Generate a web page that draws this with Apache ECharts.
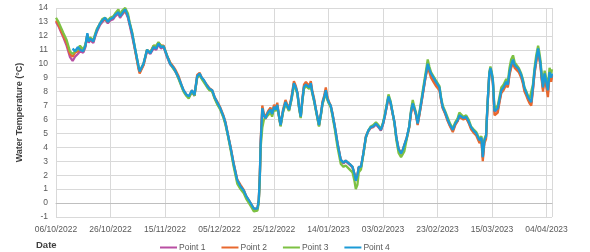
<!DOCTYPE html>
<html><head><meta charset="utf-8">
<script src="https://cdn.jsdelivr.net/npm/echarts@6/dist/echarts.min.js"></script>
<style>html,body{margin:0;padding:0;background:#fff}#c{width:590px;height:252px}</style>
</head><body><div id="c"></div>
<script>
// Day offsets from 06/10/2022
var startDate = '2022-10-06';
var days = [0.0,0.9,1.8,2.7,3.9,5.1,6.1,7.0,8.0,8.8,10.0,10.8,11.5,12.0,12.5,13.7,14.3,15.0,16.2,17.0,18.0,19.0,19.9,21.0,21.7,22.9,23.5,24.2,25.4,26.4,27.0,27.9,29.1,30.3,30.7,32.1,33.4,34.6,35.8,36.8,37.6,38.5,39.5,40.7,41.9,43.2,44.0,45.0,46.0,46.8,47.8,48.7,49.9,50.8,51.8,52.7,53.5,54.2,55.5,56.3,57.3,58.2,59.1,60.3,61.5,62.2,63.0,64.0,65.2,66.5,67.7,68.9,69.8,70.8,71.7,72.6,73.3,73.9,74.4,74.8,75.1,75.7,76.3,76.9,77.8,78.7,79.3,80.0,80.6,81.2,81.8,82.4,83.3,84.2,84.8,85.5,86.4,87.3,88.0,88.6,89.2,89.8,90.4,91.0,91.7,92.3,92.9,93.5,94.0,94.7,95.5,96.5,97.2,97.8,98.4,99.0,99.6,100.2,100.8,101.4,102.3,103.3,104.5,105.5,106.3,107.0,107.8,108.8,109.5,110.0,110.6,111.1,111.9,112.8,113.7,114.6,115.5,116.4,117.4,118.3,119.2,120.0,120.7,122.0,122.8,123.5,124.2,124.9,125.7,126.6,127.2,127.8,128.7,129.6,130.3,130.9,131.5,132.1,132.7,133.5,134.6,135.5,136.4,137.0,137.6,138.5,139.4,140.7,141.3,141.9,142.8,143.8,144.6,145.6,146.5,147.4,148.0,148.6,149.5,150.5,151.4,152.3,153.2,154.2,155.4,156.1,156.6,157.2,157.8,158.2,158.6,159.0,159.4,159.9,160.3,160.9,161.5,162.1,162.8,163.4,164.2,165.2,165.8,166.4,167.0,167.7,168.3,168.9,169.8,170.7,171.3,171.9,172.6,173.2,173.8,174.4,175.0,175.6,176.2,176.9,177.3,177.8,178.2,178.7,179.3,179.9,180.5,181.1,181.7,182.0];

var point1 = [13.0,12.7,12.3,11.9,11.3,10.5,10.2,10.5,10.7,10.9,10.8,11.2,12.1,11.5,11.7,11.5,11.9,12.3,12.8,13.0,13.2,12.9,13.1,13.2,13.4,13.6,13.3,13.5,13.8,13.3,12.8,12.0,10.9,9.7,9.4,9.9,10.9,10.7,11.1,11.0,11.4,11.1,11.2,10.5,9.95,9.65,9.35,8.95,8.45,8.05,7.75,7.6,8.0,7.7,9.0,9.2,8.95,8.8,8.35,8.15,8.05,7.55,7.2,6.75,6.15,5.7,4.95,4.0,2.75,1.6,1.15,0.85,0.45,0.15,-0.15,-0.45,-0.5,-0.45,0.15,1.9,4.2,6.7,6.25,6.05,6.45,6.65,6.35,6.85,6.65,7.0,6.25,5.55,6.55,7.2,6.95,6.65,7.45,8.55,8.25,7.85,6.85,6.15,7.35,8.3,8.45,8.55,8.25,8.55,7.95,7.35,6.55,5.55,6.35,7.15,7.55,8.05,7.45,7.15,6.95,6.4,5.45,4.25,3.05,2.85,3.0,2.9,2.75,2.55,2.05,1.6,1.95,2.55,2.55,3.55,4.7,5.15,5.4,5.45,5.65,5.45,5.2,5.65,6.25,7.6,7.15,7.15,5.75,4.65,3.85,3.5,3.75,3.85,4.65,5.45,6.55,7.1,6.75,6.35,5.65,6.55,7.85,8.95,9.95,9.55,9.25,8.95,8.65,8.25,7.45,6.85,6.45,5.9,5.55,5.2,5.65,5.9,6.25,6.25,6.05,6.15,5.8,5.4,5.15,4.95,4.45,4.65,3.25,4.45,4.75,6.45,7.95,9.25,9.65,9.25,8.75,6.55,6.6,6.7,7.4,8.0,8.2,8.6,8.4,9.3,9.8,10.2,9.8,9.7,9.5,9.1,8.7,8.15,7.8,7.5,7.3,7.15,8.2,9.4,10.2,11.0,10.5,9.9,9.0,8.2,9.2,9.1,7.9,9.3,8.85,9.2];

var point2 = [13.1,12.8,12.4,12.0,11.5,10.7,10.5,10.8,10.9,11.1,10.9,11.3,12.1,11.6,11.8,11.6,12.0,12.4,12.9,13.1,13.2,13.0,13.2,13.3,13.5,13.7,13.4,13.6,13.8,13.4,12.9,12.2,10.9,9.6,9.3,9.9,11.0,10.8,11.3,11.2,11.5,11.3,11.3,10.6,10.1,9.75,9.5,9.1,8.5,8.1,7.8,7.6,8.1,7.7,9.2,9.35,9.0,8.9,8.45,8.25,8.1,7.6,7.3,6.85,6.25,5.8,5.0,4.1,2.85,1.7,1.3,0.95,0.5,0.2,-0.1,-0.4,-0.45,-0.4,0.2,2.1,4.5,7.0,6.4,6.2,6.6,6.85,6.5,7.05,6.8,7.2,6.3,5.6,6.7,7.4,7.1,6.8,7.6,8.75,8.4,7.9,6.9,6.2,7.5,8.5,8.7,8.75,8.4,8.75,8.1,7.5,6.6,5.6,6.4,7.3,7.7,8.3,7.6,7.25,7.0,6.5,5.5,4.3,3.1,2.9,3.05,2.95,2.8,2.6,2.1,1.7,2.0,2.6,2.6,3.6,4.8,5.2,5.4,5.5,5.7,5.5,5.25,5.7,6.3,7.6,7.1,7.1,5.8,4.7,3.9,3.6,3.8,3.9,4.7,5.4,6.5,7.0,6.7,6.3,5.6,6.5,7.8,8.9,9.8,9.4,9.0,8.7,8.4,8.1,7.4,6.8,6.4,5.85,5.5,5.1,5.6,5.9,6.2,6.2,6.0,6.1,5.75,5.3,5.05,4.85,4.3,4.5,3.0,4.3,4.6,6.4,7.9,9.2,9.6,9.2,8.6,6.3,6.4,6.5,7.3,7.9,8.1,8.5,8.3,9.2,9.7,10.1,9.7,9.6,9.4,9.0,8.6,8.0,7.7,7.4,7.15,7.0,8.1,9.3,10.1,10.9,10.4,9.8,8.9,8.0,9.1,9.0,7.6,9.2,8.7,9.1];

var point3 = [13.3,13.0,12.6,12.2,11.7,10.9,10.7,10.9,11.0,11.3,11.0,11.4,12.0,11.7,11.9,11.7,12.1,12.5,12.9,13.2,13.3,13.1,13.3,13.4,13.6,13.9,13.5,13.8,14.0,13.6,13.0,12.3,11.0,9.8,9.5,10.0,11.0,10.8,11.3,11.3,11.55,11.3,11.25,10.6,10.0,9.6,9.4,8.9,8.4,8.0,7.7,7.5,8.0,7.7,9.0,9.2,8.9,8.8,8.3,8.1,8.0,7.5,7.1,6.7,6.1,5.6,4.9,3.9,2.6,1.4,1.0,0.7,0.3,0.0,-0.3,-0.6,-0.6,-0.55,0.0,1.8,4.0,5.4,6.0,5.9,6.3,6.5,6.2,6.8,6.6,6.9,6.2,5.5,6.5,7.1,6.9,6.6,7.4,8.4,8.2,7.8,6.8,6.1,7.3,8.2,8.4,8.4,8.2,8.4,7.9,7.3,6.5,5.5,6.3,7.1,7.5,7.9,7.4,7.1,6.9,6.3,5.3,4.0,2.8,2.6,2.7,2.6,2.4,2.2,1.6,1.0,1.3,2.2,2.4,3.5,4.7,5.2,5.5,5.6,5.8,5.6,5.3,5.8,6.4,7.8,7.3,7.3,5.7,4.5,3.6,3.3,3.5,3.7,4.6,5.5,6.7,7.4,6.9,6.5,5.8,6.7,8.1,9.2,10.3,9.8,9.4,9.1,8.8,8.4,7.6,7.0,6.6,6.1,5.7,5.35,5.8,6.1,6.5,6.4,6.2,6.3,6.0,5.5,5.3,5.1,4.6,4.8,3.6,4.6,4.9,6.6,8.0,9.4,9.8,9.4,8.9,6.8,6.9,7.0,7.7,8.3,8.5,8.9,8.7,9.7,10.3,10.6,10.1,10.0,9.7,9.3,8.9,8.3,8.0,7.7,7.5,7.4,8.5,9.7,10.6,11.3,10.9,10.2,9.3,8.5,9.5,9.4,8.4,9.7,9.3,9.6];

var point4 = [null,null,null,null,null,null,11.1,10.9,11.2,11.0,10.9,11.3,12.2,11.6,11.8,11.6,12.0,12.4,12.9,13.1,13.3,13.0,13.2,13.3,13.5,13.7,13.4,13.6,13.9,13.4,12.9,12.2,11.0,9.8,9.45,10.0,11.0,10.75,11.2,11.1,11.45,11.2,11.25,10.6,10.0,9.7,9.4,9.0,8.5,8.1,7.8,7.65,8.1,7.75,9.1,9.3,9.0,8.85,8.4,8.2,8.1,7.6,7.25,6.8,6.2,5.75,5.0,4.05,2.8,1.65,1.2,0.9,0.5,0.2,-0.1,-0.4,-0.45,-0.4,0.2,2.0,4.3,6.8,6.3,6.1,6.5,6.7,6.4,6.9,6.7,7.05,6.3,5.6,6.6,7.25,7.0,6.7,7.5,8.6,8.3,7.9,6.9,6.2,7.4,8.35,8.5,8.6,8.3,8.6,8.0,7.4,6.6,5.6,6.4,7.2,7.6,8.1,7.5,7.2,7.0,6.45,5.5,4.3,3.1,2.9,3.05,2.95,2.8,2.6,2.1,1.6,2.0,2.6,2.6,3.6,4.75,5.2,5.45,5.5,5.7,5.5,5.25,5.7,6.3,7.65,7.2,7.2,5.8,4.7,3.9,3.55,3.8,3.9,4.7,5.5,6.6,7.15,6.8,6.4,5.7,6.6,7.9,9.0,10.0,9.6,9.3,9.0,8.7,8.3,7.5,6.9,6.5,5.95,5.6,5.25,5.7,5.95,6.3,6.3,6.1,6.2,5.85,5.45,5.2,5.0,4.5,4.7,3.3,4.5,4.8,6.5,8.0,9.3,9.7,9.3,8.8,6.6,6.7,6.8,7.5,8.1,8.3,8.7,8.5,9.4,9.9,10.3,9.9,9.8,9.6,9.2,8.8,8.25,7.9,7.6,7.4,7.25,8.3,9.5,10.3,11.1,10.6,10.0,9.1,8.3,9.3,9.2,8.1,9.4,9.0,9.3];

var seriesNames = ['Point 1','Point 2','Point 3','Point 4'];
var seriesColors = ['#b94fa3','#e8682e','#7dc143','#1c9bd6'];
var seriesValues = [point1, point2, point3, point4];

function fmtDate(d){
  var t = new Date(Date.parse(startDate + 'T00:00:00Z') + d*86400000);
  var dd = ('0'+t.getUTCDate()).slice(-2), mm = ('0'+(t.getUTCMonth()+1)).slice(-2);
  return dd + '/' + mm + '/' + t.getUTCFullYear();
}

var chart = echarts.init(document.getElementById('c'), null, {renderer:'canvas'});
var font = 'Liberation Sans, Arial, sans-serif';
chart.setOption({
  animation:false,
  backgroundColor:'#ffffff',
  grid:{left:56, right:38, top:8, bottom:35, containLabel:false},
  title:{text:'Date', left:36, top:240, padding:0, textStyle:{fontSize:9.5, fontWeight:'bold', color:'#404040', fontFamily:font}},
  legend:{
    data:seriesNames, left:160, top:243, padding:0, itemWidth:17, itemHeight:2, itemGap:16,
    icon:'rect',
    textStyle:{fontSize:8.5, color:'#595959', fontFamily:font, padding:[0,0,0,-3]}
  },
  xAxis:{
    type:'value', min:0, max:182, interval:20,
    axisLine:{show:true, lineStyle:{color:'#bfbfbf', width:1}},
    axisTick:{show:false},
    splitLine:{show:true, lineStyle:{color:'#d9d9d9', width:1}},
    axisLabel:{color:'#595959', fontSize:8.5, fontFamily:font, margin:8, showMaxLabel:false,
      formatter:function(v){ return (v % 20 === 0) ? fmtDate(v) : ''; }}
  },
  yAxis:{
    type:'value', min:-1, max:14, interval:1,
    name:'Water Temperature (°C)', nameLocation:'middle', nameGap:32,
    nameTextStyle:{fontSize:9, fontWeight:'bold', color:'#404040', fontFamily:font},
    axisLine:{show:false}, axisTick:{show:false},
    splitLine:{show:true, lineStyle:{color:'#d9d9d9', width:1}},
    axisLabel:{color:'#595959', fontSize:8.5, fontFamily:font, margin:8}
  },
  series: seriesNames.map(function(n,i){
    return {
      name:n, type:'line', showSymbol:false, symbol:'none', connectNulls:false,
      lineStyle:{width:2.3, color:seriesColors[i]}, itemStyle:{color:seriesColors[i]},
      data: days.map(function(d,j){ return [d, seriesValues[i][j]]; })
    };
  })
});
</script></body></html>
